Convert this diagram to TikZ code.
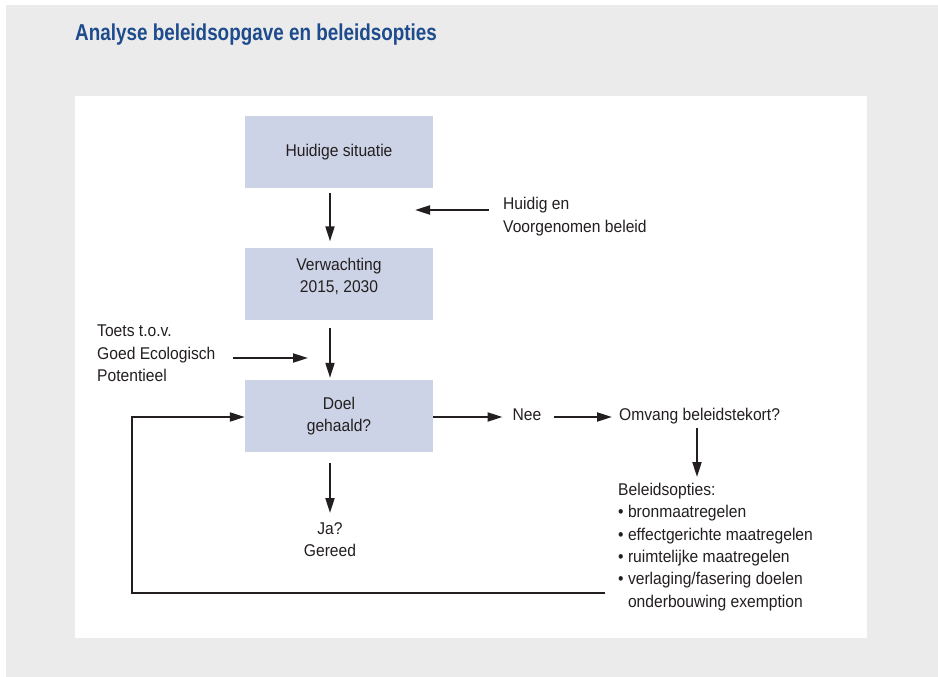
\documentclass[tikz,border=0pt]{standalone}
\usepackage{fontspec}
\setmainfont{Liberation Sans}[FakeStretch=0.92]
\newfontfamily\titlefont{Liberation Sans}[FakeStretch=0.82]
\usetikzlibrary{arrows.meta}
\definecolor{pagegray}{HTML}{EBEBEB}
\definecolor{boxfill}{HTML}{CDD3E6}
\definecolor{titleblue}{HTML}{1D4B8C}
\definecolor{ink}{HTML}{231F20}

\begin{document}
\begin{tikzpicture}[x=1pt,y=-1pt,
  every node/.style={text=ink, font=\fontsize{17}{22.5}\selectfont, inner sep=0pt},
  stepbox/.style={fill=boxfill, minimum width=188pt, minimum height=72pt, align=center},
  txt/.style={align=left},
  arr/.style={draw=ink, line width=2pt, -{Triangle[length=15pt,width=9pt]}},
]
\useasboundingbox (0,0) rectangle (938,677);
% page background and white panel
\fill[pagegray] (6,5) rectangle (938,677);
\fill[white] (75,96) rectangle (867,638);

% title
\node[anchor=base west, text=titleblue, font=\titlefont\bfseries\fontsize{23}{28}\selectfont]
  (title) at (75,40.7) {Analyse beleidsopgave en beleidsopties};

% main column of boxes
\node[stepbox] (huidig) at (339,152)   {Huidige situatie};
\node[stepbox] (verw)   at (339,283.5) {Verwachting\\2015, 2030\\[-6pt]};
\node[stepbox] (doel)   at (339,416)   {Doel\\gehaald?};

% side texts
\node[txt, anchor=north west] (beleid) at (503,197) {Huidig en\\Voorgenomen beleid};
\node[txt, anchor=north west] (toets)  at (97,325)  {Toets t.o.v.\\Goed Ecologisch\\Potentieel};
\node[anchor=base west] (nee)    at (512.5,420) {Nee};
\node[anchor=base west] (omvang) at (619,420)   {Omvang beleidstekort?};
\node[align=center, anchor=north] (ja) at (330,522) {Ja?\\Gereed};
\node[txt, anchor=north west, font=\fontsize{17}{22.3}\selectfont] (opties) at (618,483)
  {Beleidsopties:\\
   \textbullet\ bronmaatregelen\\
   \textbullet\ effectgerichte maatregelen\\
   \textbullet\ ruimtelijke maatregelen\\
   \textbullet\ verlaging/fasering doelen\\
   \phantom{\textbullet\ }onderbouwing exemption};

% free ends of the incoming arrows and the loop corner
\coordinate (beleidin) at (415,210);
\coordinate (toetsin)  at (308,358);
\coordinate (loopcorner) at (132,593);

% connectors
\draw[arr] ([shift={(-9,5)}]huidig.south) -- ([shift={(-9,-6)}]verw.north);
\draw[arr] ([shift={(-9,8)}]verw.south) -- ([shift={(-9,-2)}]doel.north);
\draw[arr] ([shift={(-14,13)}]beleid.north west) -- (beleidin);
\draw[arr] ([shift={(136,33)}]toets.north west) -- (toetsin);
\draw[arr] ([shift={(0,1)}]doel.east) -- ([shift={(-10,1)}]doel.east -| nee.west);
\draw[arr] ([shift={(12,1)}]nee.east |- doel.east) -- ([shift={(-7,1)}]omvang.west |- doel.east);
\draw[arr] ([shift={(78,4)}]omvang.south west) -- ([shift={(79,-6)}]opties.north west);
\draw[arr] ([shift={(-9,11)}]doel.south) -- ([shift={(0,-9)}]ja.north);
\draw[arr] ([shift={(-13,110)}]opties.north west) -- (loopcorner) |- ([shift={(0,1)}]doel.west);
\end{tikzpicture}
\end{document}
